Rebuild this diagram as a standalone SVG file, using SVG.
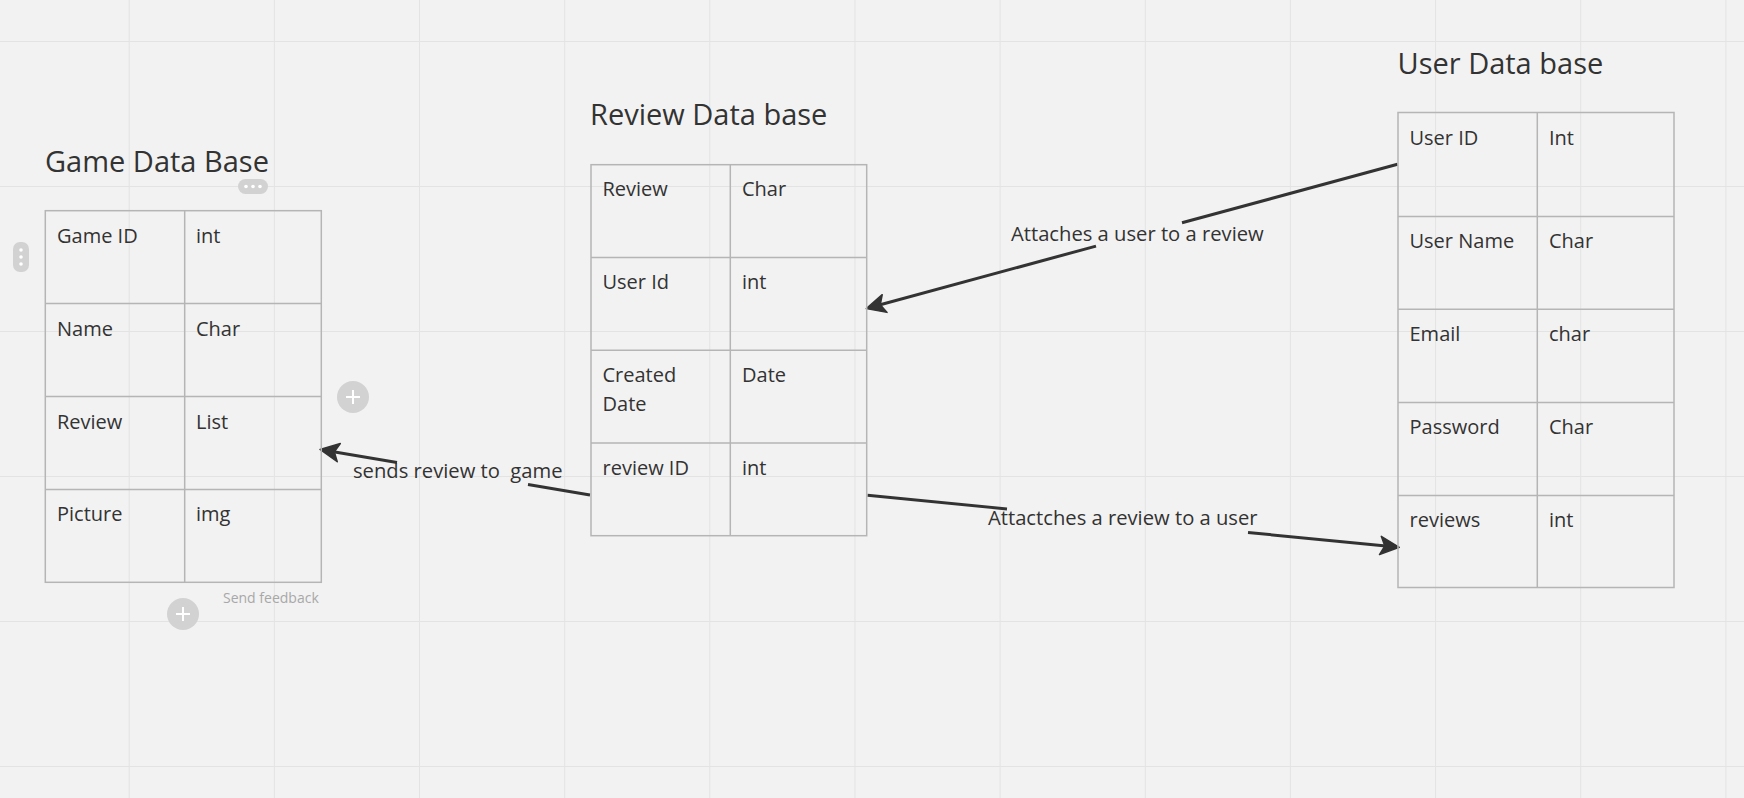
<svg xmlns="http://www.w3.org/2000/svg" width="1744" height="798" viewBox="0 0 1744 798">
<style>
.bg{fill:#f2f2f2}
.grid line{stroke:#e3e3e3;stroke-width:1}
.cell{fill:none;stroke:#b5b5b5;stroke-width:1.5}
.t{font-family:"Open Sans","Liberation Sans",sans-serif;font-size:20px;fill:#333}
.title{font-family:"Open Sans","Liberation Sans",sans-serif;font-size:29px;fill:#333}
.lbl{font-family:"Open Sans","Liberation Sans",sans-serif;font-size:20.2px;fill:#333;white-space:pre}
.conn{fill:none;stroke:#333;stroke-width:3}
.ui{fill:#d2d2d2}
.uidot{fill:#fff}
.plus{stroke:#fff;stroke-width:2}
.fb{font-family:"Open Sans","Liberation Sans",sans-serif;font-size:14px;fill:#a8a8a8}
</style>
<defs>
<marker id="arrow" viewBox="0 0 24 24" refX="19" refY="12" markerWidth="24" markerHeight="24" markerUnits="userSpaceOnUse" orient="auto">
<path d="M22,12 L3,2.8 L7.5,12 L3,21.2 Z" fill="#333" stroke="#333" stroke-width="1.5" stroke-linejoin="round"/>
</marker>
</defs>
<rect class="bg" x="0" y="0" width="1744" height="798"/>
<g class="grid">
<line x1="129.2" y1="0" x2="129.2" y2="798"/>
<line x1="274.4" y1="0" x2="274.4" y2="798"/>
<line x1="419.5" y1="0" x2="419.5" y2="798"/>
<line x1="564.7" y1="0" x2="564.7" y2="798"/>
<line x1="709.8" y1="0" x2="709.8" y2="798"/>
<line x1="855" y1="0" x2="855" y2="798"/>
<line x1="1000.1" y1="0" x2="1000.1" y2="798"/>
<line x1="1145.3" y1="0" x2="1145.3" y2="798"/>
<line x1="1290.4" y1="0" x2="1290.4" y2="798"/>
<line x1="1435.6" y1="0" x2="1435.6" y2="798"/>
<line x1="1580.7" y1="0" x2="1580.7" y2="798"/>
<line x1="1725.9" y1="0" x2="1725.9" y2="798"/>
<line x1="0" y1="41.5" x2="1744" y2="41.5"/>
<line x1="0" y1="186.5" x2="1744" y2="186.5"/>
<line x1="0" y1="331.5" x2="1744" y2="331.5"/>
<line x1="0" y1="476.5" x2="1744" y2="476.5"/>
<line x1="0" y1="621.5" x2="1744" y2="621.5"/>
<line x1="0" y1="766.5" x2="1744" y2="766.5"/>
</g>

<g id="connectors">
<path class="conn" d="M590,495 L528,484.6"/>
<path class="conn" d="M397,462.5 L323,450" marker-end="url(#arrow)"/>
<text class="lbl" x="353" y="478">sends review to  game</text>
<path class="conn" d="M1397.5,164.3 L1182,222.8"/>
<path class="conn" d="M1096,246.1 L869.2,307.7" marker-end="url(#arrow)"/>
<text class="lbl" x="1011" y="240.7">Attaches a user to a review</text>
<path class="conn" d="M867.5,495.3 L1007,508.9"/>
<path class="conn" d="M1248,532.5 L1396.3,547" marker-end="url(#arrow)"/>
<text class="lbl" x="988" y="525.3">Attactches a review to a user</text>
</g>

<g id="game-db">
<text class="title" x="45" y="172">Game Data Base</text>
<rect class="cell" x="45.3" y="210.7" width="276" height="371.6"/>
<line class="cell" x1="184.7" y1="210.7" x2="184.7" y2="582.3"/>
<line class="cell" x1="45.3" y1="303.6" x2="321.3" y2="303.6"/>
<line class="cell" x1="45.3" y1="396.5" x2="321.3" y2="396.5"/>
<line class="cell" x1="45.3" y1="489.4" x2="321.3" y2="489.4"/>
<text class="t" x="57" y="242.7">Game ID</text>
<text class="t" x="196" y="242.7">int</text>
<text class="t" x="57" y="335.6">Name</text>
<text class="t" x="196" y="335.6">Char</text>
<text class="t" x="57" y="428.5">Review</text>
<text class="t" x="196" y="428.5">List</text>
<text class="t" x="57" y="521.4">Picture</text>
<text class="t" x="196" y="521.4">img</text>
</g>

<g id="review-db">
<text class="title" x="590" y="125.3">Review Data base</text>
<rect class="cell" x="591" y="164.7" width="275.7" height="371"/>
<line class="cell" x1="730.3" y1="164.7" x2="730.3" y2="535.7"/>
<line class="cell" x1="591" y1="257.5" x2="866.7" y2="257.5"/>
<line class="cell" x1="591" y1="350.3" x2="866.7" y2="350.3"/>
<line class="cell" x1="591" y1="443.1" x2="866.7" y2="443.1"/>
<text class="t" x="602.5" y="196">Review</text>
<text class="t" x="742" y="196">Char</text>
<text class="t" x="602.5" y="289">User Id</text>
<text class="t" x="742" y="289">int</text>
<text class="t" x="602.5" y="382"><tspan x="602.5">Created</tspan><tspan x="602.5" dy="28.5">Date</tspan></text>
<text class="t" x="742" y="382">Date</text>
<text class="t" x="602.5" y="475">review ID</text>
<text class="t" x="742" y="475">int</text>
</g>

<g id="user-db">
<text class="title" x="1397.5" y="73.8">User Data base</text>
<rect class="cell" x="1398" y="112.5" width="276" height="475"/>
<line class="cell" x1="1537.3" y1="112.5" x2="1537.3" y2="587.5"/>
<line class="cell" x1="1398" y1="216.4" x2="1674" y2="216.4"/>
<line class="cell" x1="1398" y1="309.3" x2="1674" y2="309.3"/>
<line class="cell" x1="1398" y1="402.4" x2="1674" y2="402.4"/>
<line class="cell" x1="1398" y1="495.4" x2="1674" y2="495.4"/>
<text class="t" x="1409.5" y="144.5">User ID</text>
<text class="t" x="1549" y="144.5">Int</text>
<text class="t" x="1409.5" y="248.4">User Name</text>
<text class="t" x="1549" y="248.4">Char</text>
<text class="t" x="1409.5" y="341.3">Email</text>
<text class="t" x="1549" y="341.3">char</text>
<text class="t" x="1409.5" y="434.4">Password</text>
<text class="t" x="1549" y="434.4">Char</text>
<text class="t" x="1409.5" y="527.4">reviews</text>
<text class="t" x="1549" y="527.4">int</text>
</g>

<g id="ui-overlay">
<rect class="ui" x="238" y="179" width="30" height="15" rx="7.5"/>
<circle class="uidot" cx="246" cy="186.5" r="1.8"/>
<circle class="uidot" cx="253" cy="186.5" r="1.8"/>
<circle class="uidot" cx="260" cy="186.5" r="1.8"/>
<rect class="ui" x="13" y="242" width="16" height="30" rx="7"/>
<circle class="uidot" cx="21" cy="250" r="1.8"/>
<circle class="uidot" cx="21" cy="257" r="1.8"/>
<circle class="uidot" cx="21" cy="264" r="1.8"/>
<circle class="ui" cx="353" cy="397" r="16"/>
<line class="plus" x1="346" y1="397" x2="360" y2="397"/>
<line class="plus" x1="353" y1="390" x2="353" y2="404"/>
<circle class="ui" cx="183" cy="614" r="16"/>
<line class="plus" x1="176" y1="614" x2="190" y2="614"/>
<line class="plus" x1="183" y1="607" x2="183" y2="621"/>
<text class="fb" x="223" y="603">Send feedback</text>
</g>
</svg>
